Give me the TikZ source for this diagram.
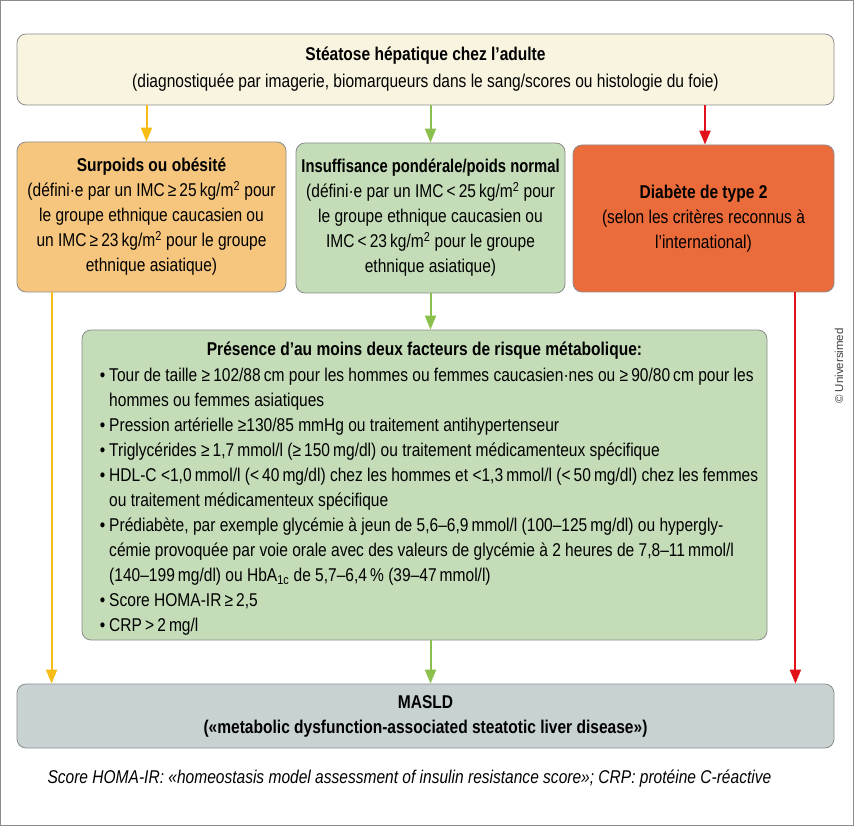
\documentclass[tikz,border=0pt]{standalone}
\usepackage{fontspec}
\setmainfont{Liberation Sans}[FakeStretch=0.84]
\newfontfamily\creditfont{Liberation Sans}
\usetikzlibrary{arrows.meta,calc}

\definecolor{topfill}{HTML}{F8F4E0}
\definecolor{orfill}{HTML}{F6C67F}
\definecolor{grfill}{HTML}{C4DDB8}
\definecolor{rdfill}{HTML}{EC6B3B}
\definecolor{gyfill}{HTML}{C9D2D3}
\definecolor{boxline}{HTML}{8C8C8C}
\definecolor{yelarr}{HTML}{F7BD16}
\definecolor{grnarr}{HTML}{8CC04D}
\definecolor{redarr}{HTML}{E2101B}

\tikzset{
  box/.style={draw=boxline, line width=0.8pt, rounded corners=9pt, align=center,
    font=\fontsize{18.5}{25}\selectfont},
  arr/.style={line width=2pt, -{Triangle[width=11pt,length=14pt]}},
}

\begin{document}
\begin{tikzpicture}[x=1pt,y=-1pt]
\useasboundingbox (0,0) rectangle (854,826);
\draw[boxline, line width=1pt] (0.5,0.5) rectangle (853.5,825.5);

% top box
\node[box, fill=topfill, minimum width=817pt, minimum height=71pt,
  font=\fontsize{18.5}{27}\selectfont] (top) at (425.5,69.5)
  {\textbf{Stéatose hépatique chez l’adulte}\\
   (diagnostiquée par imagerie, biomarqueurs dans le sang/scores ou histologie du foie)};

% middle row
\node[box, fill=orfill, minimum width=269pt, minimum height=150pt] (orange) at (151.5,217)
  {\textbf{Surpoids ou obésité}\\
   (défini·e par un IMC\,≥\,25\,kg/m\textsuperscript{2} pour\\
   le groupe ethnique caucasien ou\\
   un IMC\,≥\,23\,kg/m\textsuperscript{2} pour le groupe\\
   ethnique asiatique)};
\node[box, fill=grfill, minimum width=269pt, minimum height=150pt] (normal) at (430.5,218)
  {\textbf{\addfontfeatures{FakeStretch=0.8}Insuffisance pondérale/poids normal}\\
   (défini·e par un IMC\,<\,25\,kg/m\textsuperscript{2} pour\\
   le groupe ethnique caucasien ou\\
   IMC\,<\,23\,kg/m\textsuperscript{2} pour le groupe\\
   ethnique asiatique)};
\node[box, fill=rdfill, minimum width=261pt, minimum height=147pt] (red) at (703.5,218.5)
  {\textbf{Diabète de type 2}\\
   (selon les critères reconnus à\\
   l’international)};

% risk factors
\node[box, fill=grfill, minimum width=685pt, minimum height=310pt] (risk) at (424.5,485) {};
\node[anchor=base, font=\fontsize{18.5}{25}\selectfont\bfseries] (risktitle)
  at ($(risk.north)+(0,26)$) {Présence d’au moins deux facteurs de risque métabolique:};
\node[anchor=north west, inner sep=0pt, font=\fontsize{18.5}{25}\selectfont] (risklist)
  at ($(risk.north west)+(18,34)$)
  {\begin{tabular}{@{}l@{\hspace{4pt}}l@{}}
   \textbullet & Tour de taille ≥\,102/88\,cm pour les hommes ou femmes caucasien·nes ou ≥\,90/80\,cm pour les\\
   & hommes ou femmes asiatiques\\
   \textbullet & Pression artérielle ≥130/85 mmHg ou traitement antihypertenseur\\
   \textbullet & Triglycérides ≥\,1,7\,mmol/l (≥\,150\,mg/dl) ou traitement médicamenteux spécifique\\
   \textbullet & HDL-C <1,0\,mmol/l (<\,40\,mg/dl) chez les hommes et <1,3\,mmol/l (<\,50\,mg/dl) chez les femmes\\
   & ou traitement médicamenteux spécifique\\
   \textbullet & Prédiabète, par exemple glycémie à jeun de 5,6–6,9\,mmol/l (100–125\,mg/dl) ou hypergly-\\
   & cémie provoquée par voie orale avec des valeurs de glycémie à 2 heures de 7,8–11\,mmol/l\\
   & (140–199\,mg/dl) ou HbA\textsubscript{1c} de 5,7–6,4\,\% (39–47\,mmol/l)\\
   \textbullet & Score HOMA-IR\,≥\,2,5\\
   \textbullet & CRP\,>\,2\,mg/l
   \end{tabular}};

% result
\node[box, fill=gyfill, minimum width=817pt, minimum height=64pt, font=\fontsize{18.5}{25}\selectfont\bfseries] (masld) at (425.5,716)
  {MASLD\\
   («metabolic dysfunction-associated steatotic liver disease»)};

% arrows
\draw[arr, yelarr] ([xshift=-5pt]orange.north |- top.south) -- ([xshift=-5pt]orange.north);
\draw[arr, grnarr] (normal.north |- top.south) -- (normal.north);
\draw[arr, redarr] ([xshift=1.5pt]red.north |- top.south) -- ([xshift=1.5pt]red.north);
\draw[arr, grnarr] (normal.south) -- (normal.south |- risk.north);
\draw[arr, grnarr] (normal.south |- risk.south) -- (normal.south |- masld.north);
\coordinate (yelstart) at ($(orange.south west)+(35,0)$);
\coordinate (redstart) at ($(red.south east)+(-39,0)$);
\draw[arr, yelarr] (yelstart) -- (yelstart |- masld.north);
\draw[arr, redarr] (redstart) -- (redstart |- masld.north);

% note and credit
\node[anchor=west, font=\fontsize{18.5}{20}\selectfont\itshape] (note) at (44,779)
  {Score HOMA-IR: «homeostasis model assessment of insulin resistance score»; CRP: protéine C-réactive};
\node[rotate=90, font=\creditfont\fontsize{11.5}{12}\selectfont, text=black!75] (credit) at (839,366) {© Universimed};
\end{tikzpicture}
\end{document}
